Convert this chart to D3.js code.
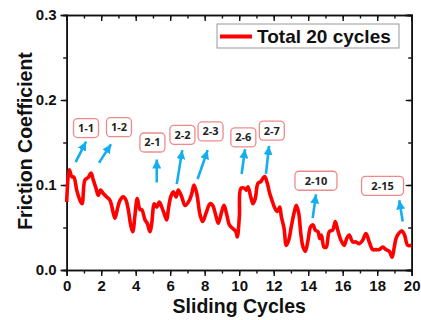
<!DOCTYPE html>
<html>
<head>
<meta charset="utf-8">
<script src="https://cdn.jsdelivr.net/npm/d3@7"></script>
<style>
  body { margin: 0; background: #fff; }
  svg { display: block; }
  .tick text { font-family: "Liberation Sans", Arial, sans-serif; font-weight: bold; font-size: 15px; fill: #111; }
</style>
</head>
<body>
<svg id="chart" width="421" height="320"></svg>
<script>
// friction trace
var cycles = [0.00, 0.15, 0.29, 0.42, 0.58, 0.77, 0.89, 1.06, 1.25, 1.41, 1.54, 1.70, 1.83, 1.97, 2.12, 2.32, 2.51, 2.70, 2.80, 2.93,
  3.09, 3.28, 3.44, 3.57, 3.71, 3.83, 3.96, 4.09, 4.25, 4.35, 4.54, 4.67, 4.83, 4.93, 5.08, 5.22, 5.37, 5.51, 5.64, 5.80,
  5.89, 6.03, 6.18, 6.34, 6.47, 6.67, 6.86, 7.11, 7.25, 7.38, 7.54, 7.73, 7.88, 8.08, 8.31, 8.46, 8.66, 8.79, 8.99, 9.12,
  9.28, 9.43, 9.62, 9.81, 9.89, 10.01, 10.10, 10.32, 10.41, 10.51, 10.67, 10.80, 10.93, 11.09, 11.25, 11.38, 11.48, 11.63, 11.77, 11.90,
  12.06, 12.21, 12.35, 12.44, 12.60, 12.73, 12.87, 13.02, 13.18, 13.31, 13.45, 13.57, 13.70, 13.83, 13.99, 14.14, 14.28, 14.41, 14.57, 14.67,
  14.76, 14.92, 15.05, 15.22, 15.42, 15.57, 15.71, 15.90, 16.09, 16.23, 16.38, 16.58, 16.77, 16.96, 17.16, 17.35, 17.54, 17.74, 17.93, 18.12,
  18.32, 18.51, 18.70, 18.86, 18.99, 19.09, 19.25, 19.44, 19.59, 19.77, 20.00];
var friction = [0.080, 0.118, 0.110, 0.109, 0.094, 0.082, 0.078, 0.106, 0.109, 0.114, 0.106, 0.096, 0.088, 0.094, 0.090, 0.086, 0.082, 0.067, 0.061, 0.071,
  0.082, 0.086, 0.082, 0.071, 0.053, 0.045, 0.065, 0.084, 0.071, 0.071, 0.059, 0.055, 0.045, 0.055, 0.078, 0.074, 0.080, 0.074, 0.067, 0.059,
  0.071, 0.086, 0.092, 0.086, 0.094, 0.086, 0.076, 0.082, 0.090, 0.100, 0.090, 0.065, 0.057, 0.067, 0.078, 0.076, 0.063, 0.055, 0.069, 0.076,
  0.065, 0.053, 0.049, 0.045, 0.039, 0.063, 0.096, 0.096, 0.094, 0.098, 0.086, 0.078, 0.084, 0.102, 0.104, 0.108, 0.110, 0.102, 0.090, 0.082,
  0.073, 0.069, 0.074, 0.063, 0.049, 0.029, 0.035, 0.051, 0.067, 0.076, 0.067, 0.043, 0.027, 0.022, 0.035, 0.051, 0.053, 0.047, 0.045, 0.037,
  0.041, 0.027, 0.027, 0.045, 0.047, 0.057, 0.047, 0.035, 0.029, 0.037, 0.041, 0.033, 0.033, 0.031, 0.035, 0.043, 0.033, 0.024, 0.024, 0.024,
  0.027, 0.024, 0.022, 0.015, 0.027, 0.037, 0.043, 0.046, 0.041, 0.029, 0.029];

// callouts: label box centre, arrow tail -> head (data units)
var calloutText = ["1-1", "1-2", "2-1", "2-2", "2-3", "2-6", "2-7", "2-10", "2-15"];
var calloutX = [1.12, 3.03, 4.97, 6.71, 8.34, 10.24, 11.89, 14.45, 18.31];
var calloutY = [0.167, 0.168, 0.150, 0.159, 0.163, 0.156, 0.164, 0.105, 0.099];
var arrowX0 = [0.52, 1.87, 5.22, 6.38, 7.59, 10.14, 11.55, 14.26, 19.48];
var arrowY0 = [0.127, 0.126, 0.103, 0.101, 0.107, 0.113, 0.113, 0.061, 0.057];
var arrowX1 = [1.12, 2.57, 5.22, 6.70, 8.17, 10.34, 11.73, 14.45, 19.28];
var arrowY1 = [0.151, 0.148, 0.130, 0.141, 0.141, 0.142, 0.146, 0.089, 0.082];

var xTicks = [0, 2, 4, 6, 8, 10, 12, 14, 16, 18, 20];
var yTicks = [0.0, 0.1, 0.2, 0.3];

var margin = {top: 15, right: 9.3, bottom: 50, left: 66.7};
var W = 421, H = 320;
var w = W - margin.left - margin.right, h = H - margin.top - margin.bottom;

var svg = d3.select("#chart");
var g = svg.append("g").attr("transform", "translate(" + margin.left + "," + margin.top + ")");

var x = d3.scaleLinear().domain([0, 20]).range([0, w]);
var y = d3.scaleLinear().domain([0, 0.3]).range([h, 0]);

var minorX = d3.range(0, 21, 1);
var minorY = d3.range(0, 0.3001, 0.05);

function styleAxis(sel) {
    sel.select(".domain").attr("stroke", "#111").attr("stroke-width", 1.6);
    sel.selectAll(".tick line").attr("stroke", "#111").attr("stroke-width", 1.4);
}

// minor ticks first
g.append("g").attr("transform", "translate(0," + h + ")")
    .call(d3.axisBottom(x).tickValues(minorX).tickSize(3.5).tickFormat(""))
    .call(styleAxis);
g.append("g")
    .call(d3.axisLeft(y).tickValues(minorY).tickSize(3.5).tickFormat(""))
    .call(styleAxis);
g.append("g")
    .call(d3.axisTop(x).tickValues(minorX).tickSize(-3.5).tickFormat(""))
    .call(styleAxis);
g.append("g").attr("transform", "translate(" + w + ",0)")
    .call(d3.axisRight(y).tickValues(minorY).tickSize(-3.5).tickFormat(""))
    .call(styleAxis);

// major ticks
g.append("g").attr("transform", "translate(0," + h + ")")
    .call(d3.axisBottom(x).tickValues(xTicks).tickSize(6).tickPadding(4).tickFormat(d3.format("d")))
    .call(styleAxis);
g.append("g")
    .call(d3.axisLeft(y).tickValues(yTicks).tickSize(6).tickPadding(4).tickFormat(d3.format(".1f")))
    .call(styleAxis);
g.append("g")
    .call(d3.axisTop(x).tickValues(xTicks).tickSize(-6).tickFormat(""))
    .call(styleAxis);
g.append("g").attr("transform", "translate(" + w + ",0)")
    .call(d3.axisRight(y).tickValues(yTicks).tickSize(-6).tickFormat(""))
    .call(styleAxis);

// the trace
var line = d3.line()
    .x(function (d, i) { return x(cycles[i]); })
    .y(function (d) { return y(d); })
    .curve(d3.curveCatmullRom.alpha(0.5));

g.append("path")
    .datum(friction)
    .attr("fill", "none")
    .attr("stroke", "#ff0000")
    .attr("stroke-width", 3.6)
    .attr("stroke-linejoin", "round")
    .attr("d", line);

// arrows
svg.append("defs").append("marker")
    .attr("id", "head")
    .attr("markerUnits", "userSpaceOnUse")
    .attr("viewBox", "0 0 10 10")
    .attr("refX", 10).attr("refY", 5)
    .attr("markerWidth", 9).attr("markerHeight", 9)
    .attr("orient", "auto")
    .append("path")
    .attr("d", "M0,0 L10,5 L0,10 Z")
    .attr("fill", "#14aef0");

g.selectAll(".arrow")
    .data(calloutText)
    .enter()
    .append("line")
    .attr("class", "arrow")
    .attr("x1", function (d, i) { return x(arrowX0[i]); })
    .attr("y1", function (d, i) { return y(arrowY0[i]); })
    .attr("x2", function (d, i) { return x(arrowX1[i]); })
    .attr("y2", function (d, i) { return y(arrowY1[i]); })
    .attr("stroke", "#14aef0")
    .attr("stroke-width", 2.6)
    .attr("marker-end", "url(#head)");

// callout boxes
var boxes = g.selectAll(".callout")
    .data(calloutText)
    .enter()
    .append("g")
    .attr("class", "callout")
    .attr("transform", function (d, i) { return "translate(" + x(calloutX[i]) + "," + y(calloutY[i]) + ")"; });

boxes.append("rect")
    .attr("x", function (d) { return d.length > 3 ? -21 : -12.5; })
    .attr("y", -9.5)
    .attr("width", function (d) { return d.length > 3 ? 42 : 25; })
    .attr("height", 19)
    .attr("rx", 4)
    .attr("fill", "#fff")
    .attr("stroke", "#f08a8a")
    .attr("stroke-width", 1.3);

boxes.append("text")
    .attr("text-anchor", "middle")
    .attr("dy", "0.36em")
    .style("font-family", "'Open Sans', sans-serif")
    .style("font-weight", "bold")
    .style("font-size", "11px")
    .style("fill", "#222")
    .text(function (d) { return d; });

// legend
var leg = svg.append("g");
leg.append("rect")
    .attr("x", 217).attr("y", 24).attr("width", 182).attr("height", 24)
    .attr("fill", "#fff").attr("stroke", "#999").attr("stroke-width", 1);
leg.append("line")
    .attr("x1", 220).attr("x2", 252).attr("y1", 36.5).attr("y2", 36.5)
    .attr("stroke", "#ff0000").attr("stroke-width", 4);
leg.append("text")
    .attr("x", 257).attr("y", 43)
    .style("font-family", "'Liberation Sans', Arial, sans-serif")
    .style("font-weight", "bold").style("font-size", "19px").style("fill", "#111")
    .text("Total 20 cycles");

// axis titles
svg.append("text")
    .attr("x", margin.left + w / 2).attr("y", 313)
    .attr("text-anchor", "middle")
    .style("font-family", "'Liberation Sans', Arial, sans-serif")
    .style("font-weight", "bold").style("font-size", "19.5px").style("fill", "#111")
    .text("Sliding Cycles");

svg.append("text")
    .attr("transform", "translate(31.5," + (margin.top + 126) + ") rotate(-90)")
    .attr("text-anchor", "middle")
    .style("font-family", "'Liberation Sans', Arial, sans-serif")
    .style("font-weight", "bold").style("font-size", "19.5px").style("fill", "#111")
    .text("Friction Coefficient");
</script>
</body>
</html>
